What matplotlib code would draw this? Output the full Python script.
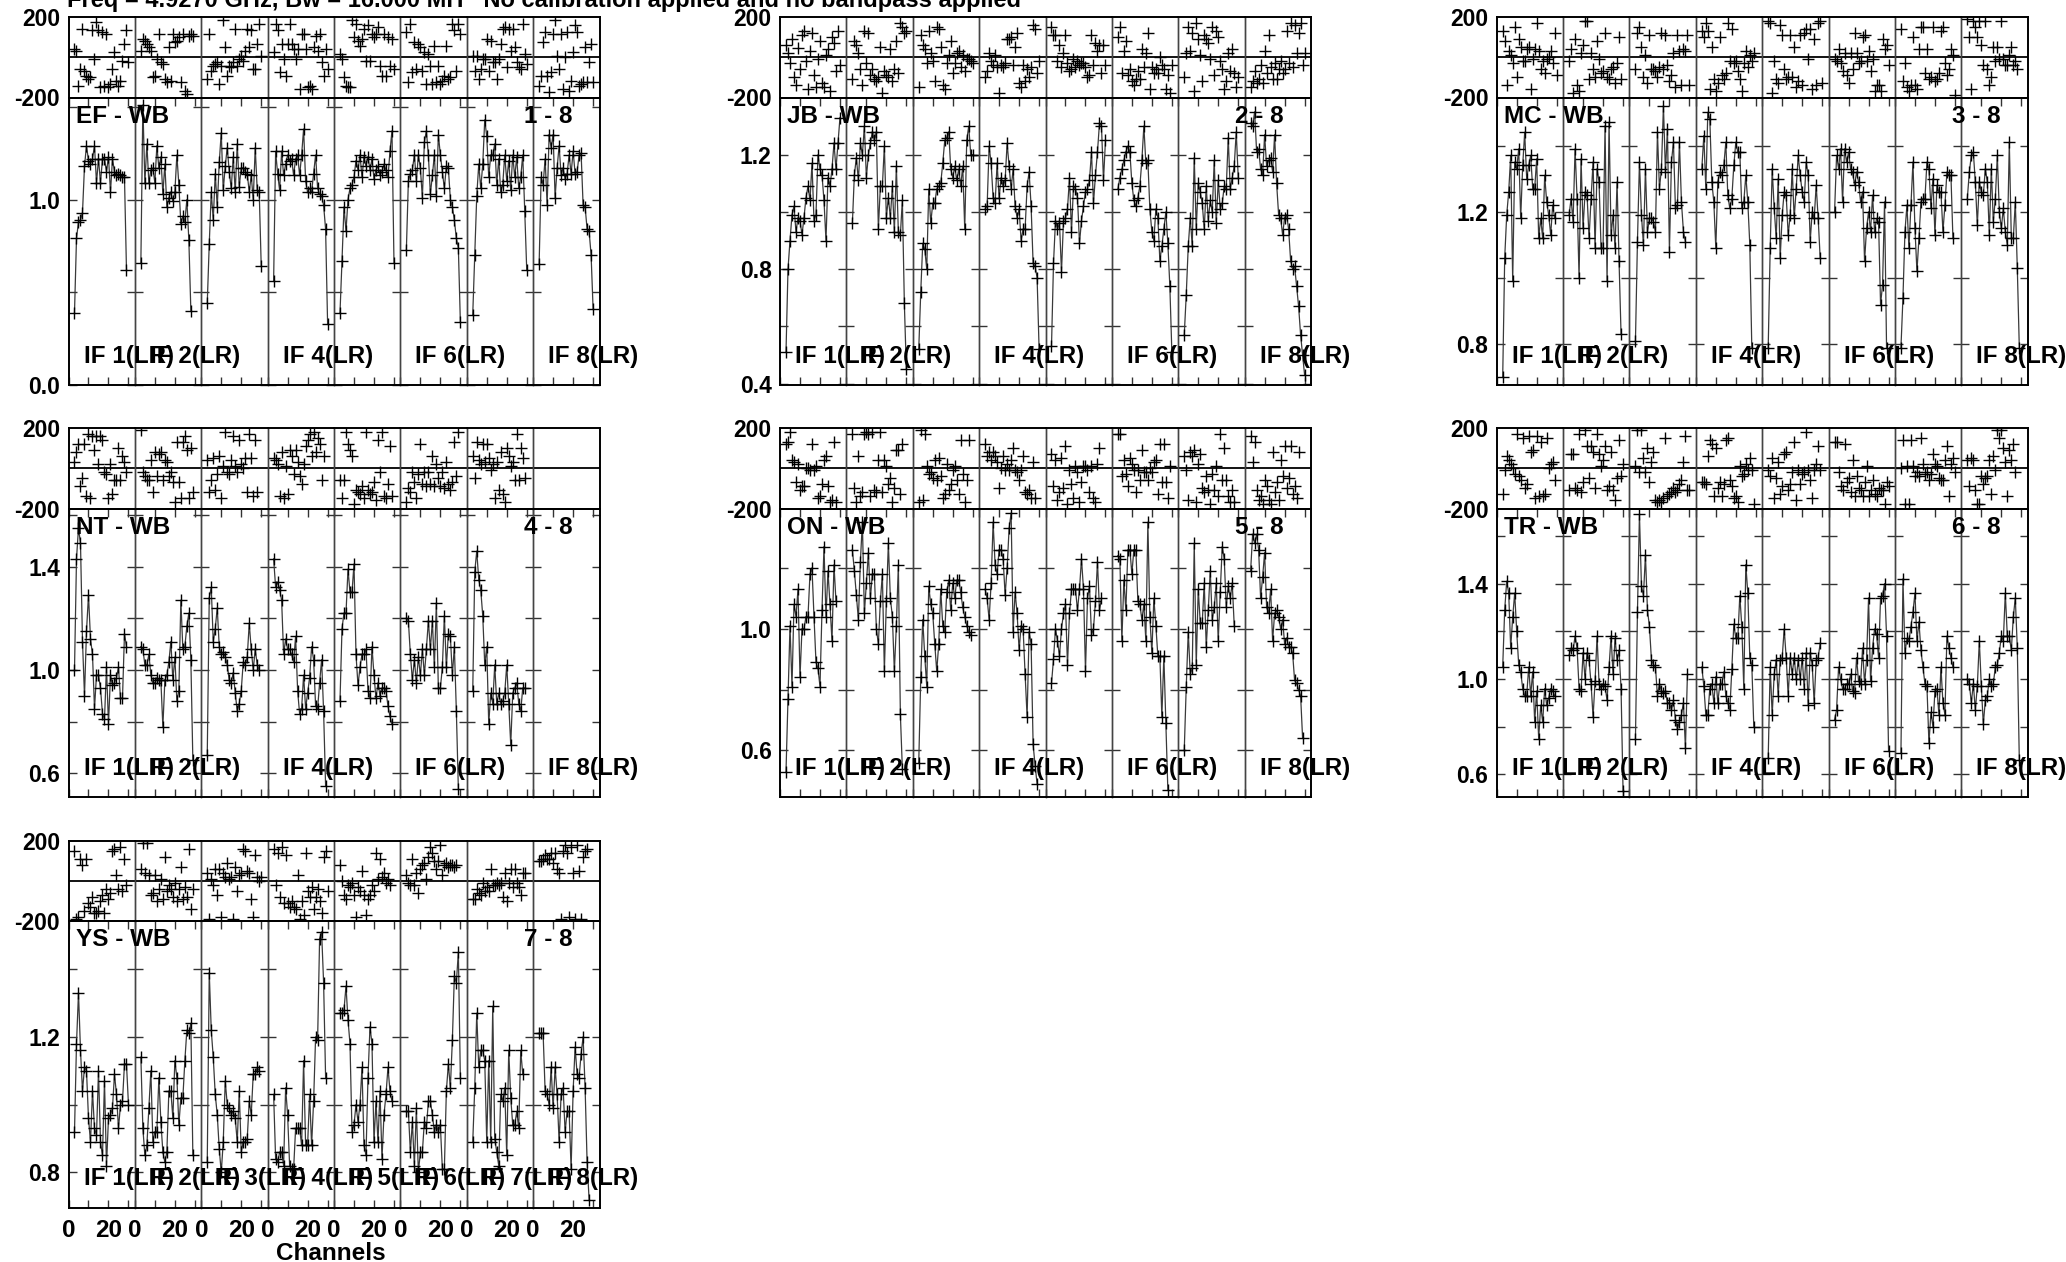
import numpy as np
import matplotlib
matplotlib.use('Agg')
import matplotlib.pyplot as plt
from matplotlib import font_manager as fm
from matplotlib.ticker import FixedLocator

names = sorted({f.name for f in fm.fontManager.ttflist})
FAM = ['Liberation Sans Narrow', 'Liberation Sans', 'DejaVu Sans'] if 'Liberation Sans Narrow' in names else ['Liberation Sans', 'DejaVu Sans']
plt.rcParams['font.family'] = FAM
plt.rcParams['font.weight'] = 'bold'

# ---------------- data ----------------
TITLE = "Freq = 4.9270 GHz, Bw = 16.000 MH   No calibration applied and no bandpass applied"

EF_AMP = [
 "0.39 0.79 0.88 0.89 0.93 1.18 1.29 1.21 1.19 1.22 1.29 1.09 1.22 1.09 1.22 1.22 1.15 1.23 1.04 1.22 1.15 1.13 1.14 1.13 1.12 1.12 0.62",
 "0.66 1.51 1.09 1.30 1.09 1.16 1.17 1.09 1.29 1.17 1.23 1.03 1.19 0.96 1.01 1.04 0.99 1.04 1.24 1.08 0.87 0.91 0.88 1.00 0.78 0.40",
 "0.44 0.76 1.04 0.89 1.14 0.96 1.20 1.36 1.05 1.18 1.28 1.15 1.06 1.23 1.04 1.30 1.07 1.17 1.17 1.15 1.14 1.04 1.13 1.00 1.28 1.05 1.04 0.64",
 "0.56 1.26 1.14 1.05 1.26 1.13 1.19 1.24 1.21 1.22 1.13 1.22 1.24 1.13 1.24 1.38 1.10 1.04 1.06 1.04 1.14 1.24 1.06 1.03 1.02 0.97 0.84 0.33",
 "0.39 0.67 0.96 0.83 1.00 1.06 1.08 1.12 1.21 1.16 1.24 1.12 1.23 1.18 1.23 1.16 1.22 1.11 1.16 1.18 1.13 1.15 1.19 1.16 1.12 1.26 1.37 0.66",
 "0.73 1.10 1.14 1.16 1.24 1.10 1.24 1.17 1.01 1.31 1.37 1.24 1.03 1.13 1.24 1.02 1.35 1.24 1.15 1.06 1.18 1.17 1.00 0.96 0.89 0.79 0.74 0.34",
 "0.38 0.70 1.02 1.19 1.06 1.19 1.43 1.34 1.12 1.24 1.24 1.30 1.08 1.22 1.04 1.08 1.24 1.10 1.21 1.05 1.24 1.12 1.23 1.06 1.12 1.24 0.94 0.62",
 "0.65 1.12 1.08 1.22 0.97 1.35 1.28 1.35 1.01 1.17 1.29 1.13 1.17 1.11 1.14 1.24 1.14 1.26 1.14 1.15 1.24 1.25 0.97 0.96 0.84 0.83 0.70 0.41",
]
EF_PH = [
 "42 33 -142 -58 142 -67 -92 -108 -100 133 -8 175 133 -150 125 -142 117 -147 -133 -58 25 -117 -142 -117 -17 67 133 -25",
 "33 92 83 67 50 33 -100 -92 -8 117 -25 -33 -108 -125 50 -117 117 75 83 100 -125 117 -167 -183 108 117 108",
 "-108 117 -67 -42 -33 -25 -133 -42 183 50 -92 -42 -50 -25 142 -42 -8 8 -17 33 142 50 133 -58 -58 67 167 8",
 "25 167 133 -75 67 -8 -92 67 167 67 42 -8 42 -158 117 117 42 -150 -142 -158 50 108 33 117 -25 -92 42 -58",
 "17 -8 -100 -142 -150 -150 183 100 167 83 58 92 142 -17 158 -17 117 100 117 150 -42 -92 117 -92 100 -42 92 -58",
 "125 -125 167 -75 75 -58 67 50 -67 25 -133 17 -42 -133 58 -125 -42 -133 -117 -92 58 -108 -100 167 133 -67 167 117",
 "8 -67 8 -108 -58 -8 -8 92 -67 83 -25 -25 -108 -8 67 142 150 -50 142 33 142 50 -25 -50 -58 167 17 -33",
 "-142 -92 75 125 -92 -175 -75 117 183 8 -58 117 -158 0 125 -167 -117 25 158 125 -142 -133 -125 50 -125 -25 67 -125",
]

JB_AMP = [
 "0.51 0.80 0.90 0.99 1.02 0.93 0.98 0.97 0.92 0.98 1.05 1.09 1.04 1.17 0.97 0.99 1.20 1.15 1.13 1.04 0.90 1.12 1.09 1.15 1.24 1.15 1.24 1.33",
 "0.96 1.13 1.19 1.11 1.24 1.20 1.30 1.12 1.20 1.24 1.28 1.25 1.28 0.94 1.09 1.09 1.23 0.98 1.05 0.98 1.09 0.93 1.16 0.93 0.92 1.04 0.68 0.45",
 "0.52 0.72 0.89 0.87 0.80 1.08 0.96 1.03 1.03 1.08 1.09 1.10 1.17 1.25 1.26 1.28 1.15 1.12 1.16 1.11 1.15 1.09 1.16 0.94 1.25 1.30 1.20 1.20",
 "1.01 1.02 1.23 1.17 1.05 1.03 1.17 1.05 1.12 1.09 1.11 1.24 1.16 1.08 1.15 1.02 0.98 1.01 0.90 0.94 0.94 1.09 1.14 1.02 0.82 0.81 0.77 0.52",
 "0.53 0.82 0.97 0.94 0.96 0.79 0.97 0.98 1.01 1.12 0.93 1.09 1.08 1.05 0.89 0.97 1.02 1.07 1.08 1.11 1.21 1.03 1.13 1.21 1.31 1.30 1.11 1.25",
 "1.08 1.12 1.15 1.18 1.21 1.23 1.21 1.10 1.04 1.02 1.05 1.09 1.18 1.30 1.17 1.18 1.01 0.93 0.90 1.01 0.98 0.83 0.88 0.94 1.00 0.89 0.74 0.51",
 "0.57 0.71 0.88 0.98 0.88 1.19 0.94 1.10 1.07 1.03 0.94 1.09 0.97 1.04 1.00 1.18 0.96 1.11 1.01 1.03 1.09 1.08 1.26 1.08 1.12 1.16 1.28 1.12",
 "1.31 1.30 1.35 1.21 1.22 1.15 1.13 1.27 1.16 1.18 1.19 1.14 1.27 1.10 0.99 0.98 0.92 0.98 0.99 0.94 0.83 0.80 0.81 0.74 0.67 0.57 0.50 0.43",
]
JB_PH = [
 "60 20 -30 90 -100 -140 45 -60 110 130 -20 -160 30 120 -90 -150 -10 80 -130 -150 10 40 -170 100 70 -70 130 -40",
 "-110 80 60 20 -60 -140 130 -30 120 -90 -60 -110 -120 -100 50 -180 -70 -90 -100 40 -120 -60 80 -80 170 150 120 130",
 "-150 110 60 40 -30 130 20 -20 -120 150 140 50 -140 -160 -30 10 80 -80 -30 20 30 -50 10 -70 -10 -10 -20 -30",
 "-100 -70 20 -20 -40 10 -50 -180 -40 -50 -30 90 90 100 -40 50 120 -130 -150 -40 -120 -60 -100 -50 160 140 -80 -20",
 "150 110 110 -20 60 -50 20 110 -30 -70 -60 -10 -50 -20 -40 -30 -30 -50 -100 -90 110 -40 70 30 60 -80 60 -40",
 "100 150 -80 30 80 -90 -60 -120 -140 -110 -70 -110 40 -50 20 120 -160 -50 -80 -60 -80 0 -40 -60 -160 -90 -180 -40",
 "-100 20 150 30 120 -170 170 90 10 -120 110 90 70 -10 150 -90 130 100 -20 -60 -160 -120 20 -70 40 -80 -150 -100",
 "-150 -120 -70 -130 -110 -40 -130 30 -80 110 -50 -110 -30 -110 -60 -20 -80 -60 130 -30 170 -50 160 20 120 170 -40 20",
]

MC_AMP = [
 "0.70 1.06 1.19 1.26 1.37 0.99 1.35 1.33 1.39 1.18 1.34 1.44 1.30 1.34 1.37 1.27 1.27 1.36 1.12 1.18 1.12 1.31 1.23 1.19 1.13 1.22 1.18",
 "1.19 1.24 1.17 1.39 1.24 1.00 1.36 1.15 1.26 1.25 1.12 1.24 1.35 1.09 1.33 1.29 1.09 1.09 1.46 0.99 1.47 1.13 1.19 1.09 1.29 1.05 0.83",
 "0.81 1.11 1.35 1.19 1.10 1.33 1.14 1.18 1.18 1.17 1.14 1.44 1.27 1.33 1.52 1.32 1.45 1.08 1.35 1.41 1.21 1.22 1.41 1.23 1.14 1.11",
 "1.33 1.43 1.27 1.50 1.48 1.29 1.23 1.09 1.29 1.32 1.31 1.34 1.41 1.25 1.21 1.24 1.34 1.41 1.38 1.38 1.21 1.23 1.31 1.23 1.10 0.79",
 "0.79 1.09 1.33 1.21 1.12 1.30 1.06 1.19 1.26 1.25 1.13 1.19 1.33 1.18 1.27 1.37 1.31 1.26 1.23 1.35 1.31 1.11 1.20 1.18 1.28 1.18 1.06",
 "1.20 1.37 1.33 1.39 1.23 1.39 1.35 1.38 1.33 1.32 1.28 1.32 1.29 1.23 1.26 1.05 1.15 1.20 1.14 1.25 1.14 1.18 1.17 0.92 0.98 1.23 0.79",
 "0.79 0.94 1.14 1.22 1.09 1.22 1.35 1.15 1.02 1.12 1.23 1.24 1.24 1.35 1.33 1.21 1.30 1.13 1.28 1.26 1.26 1.14 1.22 1.32 1.31 1.31 1.12",
 "1.24 1.32 1.37 1.38 1.29 1.16 1.29 1.26 1.25 1.33 1.29 1.13 1.33 1.17 1.24 1.37 1.20 1.15 1.21 1.14 1.10 1.41 1.12 1.12 1.23 1.03 0.79",
]
MC_PH = [
 "130 80 -140 30 10 -30 150 -100 90 50 -20 -20 40 50 -160 -10 40 170 30 -60 -20 -80 -10 0 30 -30 120 -90",
 "-20 40 -180 90 -140 -170 20 60 180 180 -110 20 -60 -100 80 -10 -80 -70 120 -100 -110 -60 -50 -130 -30 100 -110",
 "-60 120 150 50 -100 10 -130 110 -60 -60 -70 -100 -50 120 -60 110 -40 -120 -90 20 -150 110 30 -140 40 30 110 -140",
 "130 100 170 130 -160 50 -110 -170 -130 100 -90 -110 -80 170 -20 140 -30 -20 -70 -110 -170 -30 30 -50 10 -20 20",
 "180 170 -180 -20 -110 -130 160 110 -60 -110 -100 110 -100 50 -150 -120 110 -140 120 140 -10 140 -160 90 -140 170 180 -130",
 "-10 -20 40 -30 -70 20 -90 -130 20 -60 120 20 -30 -20 100 110 -20 30 -70 -10 -170 -140 -140 -170 90 40 60 -40",
 "140 -120 -30 -150 -170 -140 100 -140 -160 40 150 150 -80 40 -110 -100 150 -120 -110 -80 130 150 -30 -90 -60 40 10 -190",
 "190 100 -160 180 150 100 180 60 -40 180 -60 -140 -100 50 -20 50 -10 180 -10 -40 -40 10 50 -40 -20 -60",
]

NT_AMP = [
 "1.00 1.43 1.55 1.49 1.11 0.90 1.15 1.29 1.12 1.06 0.85 0.98 0.98 0.93 0.83 0.81 1.01 0.79 0.98 0.94 0.95 0.97 1.01 0.89 0.89 1.14 1.09",
 "1.09 1.08 1.02 1.02 1.06 0.98 0.95 0.95 0.97 0.96 0.96 0.78 0.96 0.98 1.03 1.11 0.96 1.05 0.88 0.92 1.27 1.08 1.09 1.17 1.22 1.04 0.65",
 "0.67 1.28 1.32 1.11 1.16 1.24 1.09 1.06 1.07 1.05 1.02 0.96 0.95 0.99 0.91 0.84 0.87 0.92 1.03 1.02 1.05 1.18 1.08 1.00 1.08 1.02 1.00",
 "1.43 1.32 1.34 1.31 1.27 1.06 1.12 1.08 1.08 1.06 1.03 1.13 0.92 0.83 0.85 0.98 0.85 0.91 0.97 1.09 1.04 0.86 0.85 0.95 1.04 0.84 0.55",
 "0.88 1.16 1.22 1.22 1.39 1.30 1.30 1.41 1.06 0.94 1.01 1.06 1.06 1.08 0.92 0.89 1.09 0.98 0.89 0.95 0.90 0.93 0.93 0.92 0.86 0.82 0.79",
 "1.20 1.19 1.06 0.96 1.04 0.95 1.05 0.98 1.08 0.98 1.08 1.19 1.08 1.19 1.01 1.26 0.93 0.93 1.01 1.21 1.01 1.14 1.13 0.98 1.09 0.84 0.54",
 "0.92 1.38 1.46 1.35 1.31 1.21 1.02 1.09 0.79 0.91 0.87 1.02 0.87 0.91 0.87 0.88 0.91 1.02 0.87 0.71 0.91 0.93 0.95 0.87 0.84 0.93 0.93",
 "",
]
NT_PH = [
 "30 80 120 -90 -50 120 -140 170 -150 160 90 160 20 160 140 -20 -30 -150 20 -130 -60 -60 100 -60 60 30 -20",
 "190 -20 -40 -60 -60 40 -120 80 -40 70 80 -60 40 30 -40 -20 -70 -170 130 -70 -150 130 160 90 -150 100 -120",
 "40 -120 -60 50 -110 -30 60 -150 10 180 -20 -30 40 160 10 -20 140 20 0 50 -120 170 50 -140 140 -120",
 "50 40 20 -140 80 -150 10 -130 90 60 -30 90 30 -40 -80 20 110 140 170 60 180 80 150 120 -60 60",
 "-60 -150 -60 180 120 90 60 -180 -110 -120 -130 -90 -150 180 -110 -130 -120 -70 -160 140 -20 180 -140 -150 -80 110 -140",
 "-170 -100 -120 -20 -70 -150 -30 120 -80 -20 -90 -20 -80 60 -90 20 -50 -90 -20 -100 30 -80 -110 -70 130 -40 180",
 "60 -50 130 40 20 120 30 120 50 -10 20 -150 30 -110 80 -130 -170 100 60 10 30 -60 170 -60 100 50 -50",
 "",
]

ON_AMP = [
 "0.53 0.77 1.01 0.81 1.08 1.04 1.13 0.84 1.00 1.00 1.04 1.04 1.18 1.20 1.04 0.89 0.87 0.81 1.06 1.27 1.04 1.19 1.08 0.96 1.21 1.09",
 "1.26 1.19 1.11 1.03 1.22 1.35 1.05 1.15 1.25 1.10 1.18 1.18 1.00 0.95 1.09 1.18 0.86 1.09 1.28 1.10 1.04 0.86 1.01 1.21 0.72 0.54",
 "0.56 0.84 1.03 0.91 0.81 1.14 1.08 1.05 0.95 0.86 0.95 1.13 1.01 0.99 1.12 1.16 1.06 1.15 1.10 1.16 1.16 1.12 1.07 1.04 1.01 0.99 0.98",
 "1.13 1.10 1.03 1.15 1.35 1.21 1.18 1.26 1.26 1.23 1.11 1.20 1.33 1.38 0.99 1.12 1.05 0.93 1.01 1.00 0.85 0.71 0.99 0.95 0.62 0.55 0.49",
 "0.82 0.90 1.00 0.96 0.91 1.00 1.05 1.08 0.88 1.05 1.13 1.13 1.13 1.06 1.13 1.23 1.13 0.86 1.10 1.14 0.98 1.00 1.09 1.22 1.06 1.10",
 "1.24 1.23 0.96 1.16 1.06 1.26 1.26 1.18 1.26 1.26 1.09 1.08 1.03 1.08 0.96 1.35 1.04 0.92 1.10 1.01 0.91 0.91 0.71 0.91 0.69 0.47",
 "0.60 0.81 0.99 0.85 0.87 1.28 0.88 1.13 1.02 1.02 1.15 0.94 1.06 1.19 1.03 1.07 1.15 0.96 1.12 1.27 1.23 1.07 1.14 1.10 1.15 1.01",
 "1.19 1.31 1.28 1.31 1.26 1.10 1.17 1.25 1.07 1.05 1.13 0.96 1.05 1.06 1.04 1.00 1.03 0.95 0.97 0.94 0.94 0.92 0.83 0.82 0.80 0.78 0.64",
]
ON_PH = [
 "120 130 180 40 30 -70 20 -110 -90 -90 0 0 -10 120 -10 10 -150 -140 -80 40 60 -90 -170 -160 130 -170",
 "170 -100 -170 60 -140 -120 170 180 170 -140 180 -110 -120 40 180 -120 40 10 -80 -50 -170 -100 90 90 -130 120",
 "-170 190 -160 170 10 -30 -20 -50 40 -60 50 -40 -150 -130 20 -110 -80 -10 10 -60 -130 140 -30 -170 -60 140",
 "120 60 80 40 80 60 30 -100 0 60 -10 20 -10 40 100 -10 -20 -60 -10 60 -120 -130 -110 -150 30 -150",
 "70 -90 40 -160 -120 50 -100 110 -180 -10 -80 -150 10 -20 -170 -70 10 10 -10 -120 10 -150 -170 20 100",
 "170 170 -40 40 -30 -90 50 20 -10 -120 -10 -60 90 -20 -20 -60 0 -20 30 40 -130 120 -70 120 -70 -150 10",
 "60 -10 -160 80 60 90 -170 20 70 -100 -120 -40 -110 -180 -30 -110 10 -140 170 -60 100 -60 -140 -170 -110 -170",
 "160 30 130 -110 -160 -140 -180 -60 -90 -160 -180 80 -120 -70 -160 40 -40 110 -100 -50 110 -130 -90 -150 80",
]

TR_AMP = [
 "1.05 1.29 1.41 1.36 1.13 1.26 1.36 1.20 1.06 1.03 0.96 0.93 0.93 1.05 0.93 1.03 0.82 0.95 0.75 0.89 0.82 0.96 0.89 0.92 0.96 0.95 0.93",
 "1.10 1.13 1.12 1.18 1.13 0.96 0.95 1.11 1.00 1.11 1.08 0.98 0.84 0.99 1.18 0.98 0.96 0.98 0.97 0.91 1.05 1.18 1.02 1.17 1.08 1.12 0.96 0.53",
 "0.75 1.28 1.69 1.39 1.35 1.52 1.29 1.22 1.08 1.06 1.05 0.93 0.98 0.95 0.94 0.95 0.90 0.90 0.87 0.91 0.83 0.79 0.82 0.85 0.90 0.71 1.02",
 "1.05 0.97 0.85 0.85 0.96 0.98 0.90 1.01 0.90 0.98 0.98 1.03 0.93 0.90 0.87 1.04 1.23 1.17 1.17 1.35 1.22 0.96 1.48 1.36 1.09 1.06 0.80",
 "0.67 1.05 0.85 1.02 1.08 0.93 1.08 1.09 1.21 1.09 0.93 1.09 1.02 1.09 1.00 1.08 1.00 1.09 0.96 1.11 0.89 1.11 1.06 0.90 1.08 1.09 1.15",
 "0.83 0.87 1.05 1.00 0.96 0.96 0.98 0.98 1.02 0.95 0.94 1.09 0.99 0.98 1.13 0.98 1.08 1.34 0.99 1.13 1.21 1.19 1.09 1.34 1.35 1.40 1.18 0.70",
 "0.69 1.42 1.11 1.17 1.16 1.22 1.28 1.36 1.16 1.24 1.12 1.05 0.98 0.97 0.73 0.86 0.80 0.95 0.96 0.85 1.05 0.90 0.85 1.18 1.13 1.09 1.05",
 "1.00 0.98 0.90 0.98 0.87 0.97 1.16 0.97 0.81 0.91 0.93 1.00 0.97 0.98 1.05 1.06 1.11 1.18 1.16 1.36 1.18 1.18 1.12 1.26 1.34 1.13 0.66",
]
TR_PH = [
 "-130 -10 60 40 20 0 -30 170 -40 -60 150 -100 -80 160 80 90 -150 160 -140 130 -140 -130 150 0 20 30 -60",
 "-110 70 70 -100 -110 170 -120 -70 190 110 -50 110 80 -100 170 70 10 40 110 -110 -90 80 -110 -160 -50 140 -40 20",
 "10 190 -20 190 50 -20 100 -70 30 80 -160 -170 -160 -170 -150 150 -140 -130 -120 -100 -120 -110 -80 -60 30 160 -110 -110",
 "-70 -70 -80 60 140 120 -140 100 -100 -70 -140 -80 140 150 -60 -90 -150 -140 -170 10 -40 -30 20 -10 50 -10 -180",
 "-10 -40 50 -150 -50 30 -130 -90 70 80 -110 -80 -20 130 -160 -10 -80 -30 -20 180 -10 -60 -150 -10 20 110 -10",
 "130 130 -20 -90 -110 120 -70 -50 -120 40 -140 -40 -100 -110 -140 -70 10 -140 -110 -60 -130 -140 -100 -110 -110 -180 -70 -90",
 "0 140 -180 10 -180 140 10 -40 -20 -40 150 20 -30 -20 -60 -30 70 20 10 -50 -60 -60 40 110 -140 20 50 -20",
 "40 -90 50 40 -110 -180 -180 -40 -80 -50 -40 40 -130 60 -10 190 150 190 100 30 -140 90 40 120 -20",
]

YS_AMP = [
 "0.92 1.18 1.33 1.16 1.04 1.11 1.10 0.96 0.89 1.04 0.93 0.91 1.10 0.89 0.85 1.07 0.82 0.96 0.97 0.99 1.09 1.03 0.93 1.00 1.01 1.12 1.12 1.00",
 "1.14 0.93 0.85 0.88 0.99 1.10 0.89 0.92 0.92 1.08 0.95 0.86 0.83 0.86 1.04 1.04 0.96 1.13 1.08 0.94 1.02 1.02 1.13 1.22 1.21 1.24 0.85",
 "0.83 1.39 1.22 1.14 1.03 0.97 0.87 0.80 0.89 1.07 1.00 0.99 0.97 0.98 0.96 0.89 1.04 0.86 0.89 0.89 0.90 1.01 0.97 1.09 1.09 1.11 1.10",
 "1.03 0.84 0.83 0.86 0.86 0.82 1.05 0.97 0.82 0.81 0.81 0.93 0.93 0.93 0.88 1.13 0.88 0.88 1.03 0.88 1.01 1.20 1.19 1.49 1.51 1.36 1.08",
 "1.27 1.27 1.28 1.35 1.25 1.18 0.92 0.94 1.00 0.95 1.00 1.11 0.88 0.85 1.08 1.23 1.18 0.89 1.01 0.89 1.04 0.84 0.97 1.03 1.11 1.04 1.01",
 "0.98 0.98 0.86 0.95 0.82 0.99 0.80 0.86 0.86 0.95 0.93 1.01 1.01 0.97 0.92 0.94 0.92 0.94 0.81 0.81 1.04 1.12 1.05 1.19 1.38 1.36 1.45 1.08",
 "0.89 1.05 1.27 1.11 1.16 1.16 1.13 0.89 1.13 0.89 1.29 0.90 0.86 0.82 1.03 1.01 1.05 0.85 1.16 1.02 0.94 0.94 0.98 0.93 1.16 1.09",
 "1.21 1.21 1.21 1.04 1.03 1.00 1.11 0.99 1.11 1.03 0.89 1.03 1.05 0.92 0.98 0.98 0.81 1.04 1.17 1.09 1.08 1.15 1.20 1.05 0.83 0.72",
]
YS_PH = [
 "150 -190 -180 110 80 -150 110 -110 -130 -80 -160 -160 -150 -100 -70 -160 -40 -90 -60 150 160 30 -40 170 -50 110 -20",
 "60 190 40 190 30 -70 -60 30 -100 -40 10 -90 120 -50 -20 -40 -80 -10 -100 -40 70 -90 -30 -80 160 -140 -40",
 "40 -190 10 -20 60 -70 60 -180 40 20 90 10 20 -190 70 -50 30 40 160 150 50 40 -90 -180 130 20 0 20",
 "160 -20 140 -80 170 -110 130 -110 -130 -100 -130 -140 30 -190 -100 -170 140 -50 -80 -30 -140 -80 -40 -100 -160 120 150 -50",
 "80 0 -70 -90 -20 -30 -10 -70 -180 -30 -50 50 -70 -170 -90 -70 -20 -50 140 10 110 20 40 -10 10 -20",
 "30 -10 -20 110 -20 40 -60 60 80 90 10 120 170 140 100 60 100 180 30 80 90 70 80 80 70 80",
 "-90 -90 -40 -60 -70 -10 -50 -30 -50 60 -20 -20 -10 -20 -10 -80 40 -100 -10 60 -30 60 -10 -30 -70 40 40",
 "100 100 110 130 110 110 140 90 140 60 40 -190 150 180 140 -180 170 40 -190 180 50 -190 120 150 160",
]

ANT_NAMES = ["EF - WB", "JB - WB", "MC - WB", "NT - WB", "ON - WB", "TR - WB", "YS - WB"]
ANT_TAGS = ["1 - 8", "2 - 8", "3 - 8", "4 - 8", "5 - 8", "6 - 8", "7 - 8"]
IF_LABELS = ["IF 1(LR)", "IF 2(LR)", "IF 3(LR)", "IF 4(LR)", "IF 5(LR)", "IF 6(LR)", "IF 7(LR)", "IF 8(LR)"]
AMPS = [EF_AMP, JB_AMP, MC_AMP, NT_AMP, ON_AMP, TR_AMP, YS_AMP]
PHS = [EF_PH, JB_PH, MC_PH, NT_PH, ON_PH, TR_PH, YS_PH]
AMP_YLIM = [(0.0, 1.55), (0.395, 1.40), (0.677, 1.545), (0.508, 1.625), (0.447, 1.395), (0.505, 1.715), (0.695, 1.542)]
AMP_MAJOR = [[0.0, 1.0], [0.4, 0.8, 1.2], [0.8, 1.2], [0.6, 1.0, 1.4], [0.6, 1.0], [0.6, 1.0, 1.4], [0.8, 1.2]]
AMP_MINOR = [[0.5, 1.5], [0.6, 1.0], [1.0, 1.4], [0.8, 1.2, 1.6], [0.8, 1.2], [0.8, 1.2, 1.6], [1.0, 1.4]]
PH_TICKS = [-200, 200]
X_MAJOR = [0, 20]
X_MINOR = [10, 30]
CH0 = 3

# ---------------- layout (pixels) ----------------
W, H = 2066, 1262
COL_X = [68.5, 780.0, 1496.7]
PANEL_W = 531.0
ROW_Y = [(17.0, 97.5, 385.0), (428.0, 508.5, 797.0), (840.5, 921.0, 1208.0)]
POS = [(0, 0), (1, 0), (2, 0), (0, 1), (1, 1), (2, 1), (0, 2)]
XMAX = 33.2

fig = plt.figure(figsize=(W / 100, H / 100), dpi=100)
fig.patch.set_facecolor('white')

def fx(p):
    return p / W

def fy(p):
    return 1 - p / H

FS = 17.5
TFS = 16.5

def style_spines(ax, k):
    for s in ['top', 'bottom']:
        ax.spines[s].set_linewidth(1.4)
        ax.spines[s].set_color('black')
    ax.spines['left'].set_linewidth(1.4 if k == 0 else 1.0)
    ax.spines['left'].set_color('black' if k == 0 else '#444444')
    ax.spines['right'].set_linewidth(1.4 if k == 7 else 1.0)
    ax.spines['right'].set_color('black' if k == 7 else '#444444')

for a in range(7):
    col, row = POS[a]
    left = COL_X[col]
    pt, pb, ab = ROW_Y[row]
    w = PANEL_W / 8
    is_bottom = (a == 6)
    for k in range(8):
        x0 = left + k * w
        axp = fig.add_axes([fx(x0), fy(pb), w / W, (pb - pt) / H])
        axa = fig.add_axes([fx(x0), fy(ab), w / W, (ab - pb) / H])
        for ax in (axp, axa):
            ax.set_facecolor('none')
            ax.set_xlim(0, XMAX)
            style_spines(ax, k)
        # phase
        axp.set_ylim(-200, 200)
        axp.axhline(0, color='black', lw=1.3)
        ph = np.array(PHS[a][k].split(), dtype=float)
        if ph.size:
            axp.plot(CH0 + np.arange(ph.size), ph, linestyle='none', marker='+',
                     ms=8.5, mew=1.0, color='black')
        axp.set_xticks([])
        axp.set_yticks(PH_TICKS)
        axp.tick_params(axis='y', length=0, pad=6, labelsize=TFS)
        if k != 0:
            axp.set_yticklabels([])
        else:
            axp.set_yticklabels([str(v) for v in PH_TICKS], fontweight='bold')
        # amplitude
        amp = np.array(AMPS[a][k].split(), dtype=float)
        axa.set_ylim(*AMP_YLIM[a])
        if amp.size:
            axa.plot(CH0 + np.arange(amp.size), amp, '-', color='#3a3a3a', lw=0.9,
                     marker='+', ms=9, mew=1.0, mec='black')
        axa.yaxis.set_major_locator(FixedLocator(AMP_MAJOR[a]))
        axa.yaxis.set_minor_locator(FixedLocator(AMP_MINOR[a]))
        axa.xaxis.set_major_locator(FixedLocator(X_MAJOR))
        axa.xaxis.set_minor_locator(FixedLocator(X_MINOR))
        axa.tick_params(axis='both', which='both', direction='in', left=True, right=True,
                        top=True, bottom=True, color='#333333', width=1.0, length=6)
        axa.tick_params(axis='y', which='major', pad=6, labelsize=TFS)
        axa.tick_params(axis='x', which='major', pad=8, labelsize=FS)
        if k == 0:
            axa.set_yticklabels(["%.1f" % v for v in AMP_MAJOR[a]], fontweight='bold')
        else:
            axa.set_yticklabels([])
        if is_bottom:
            axa.set_xticklabels([str(v) for v in X_MAJOR], fontweight='bold')
        else:
            axa.set_xticklabels([])
        # IF labels
        if is_bottom or k in (0, 1, 3, 5, 7):
            fig.text(fx(x0 + 15), fy(ab - 29), IF_LABELS[k], fontsize=FS, fontweight='bold',
                     ha='left', va='center', zorder=10)
    fig.text(fx(left + 7), fy(pb + 19), ANT_NAMES[a], fontsize=FS, fontweight='bold',
             ha='left', va='center', zorder=10)
    fig.text(fx(left + PANEL_W - 27), fy(pb + 19), ANT_TAGS[a], fontsize=FS, fontweight='bold',
             ha='right', va='center', zorder=10)

fig.text(fx(67), fy(7), TITLE, fontsize=FS - 0.5, fontweight='bold', ha='left', va='baseline')
fig.text(fx(COL_X[0] + 262), fy(1253), "Channels", fontsize=FS, fontweight='bold',
         ha='center', va='center')

fig.savefig('out.png', dpi=100, facecolor='white')
